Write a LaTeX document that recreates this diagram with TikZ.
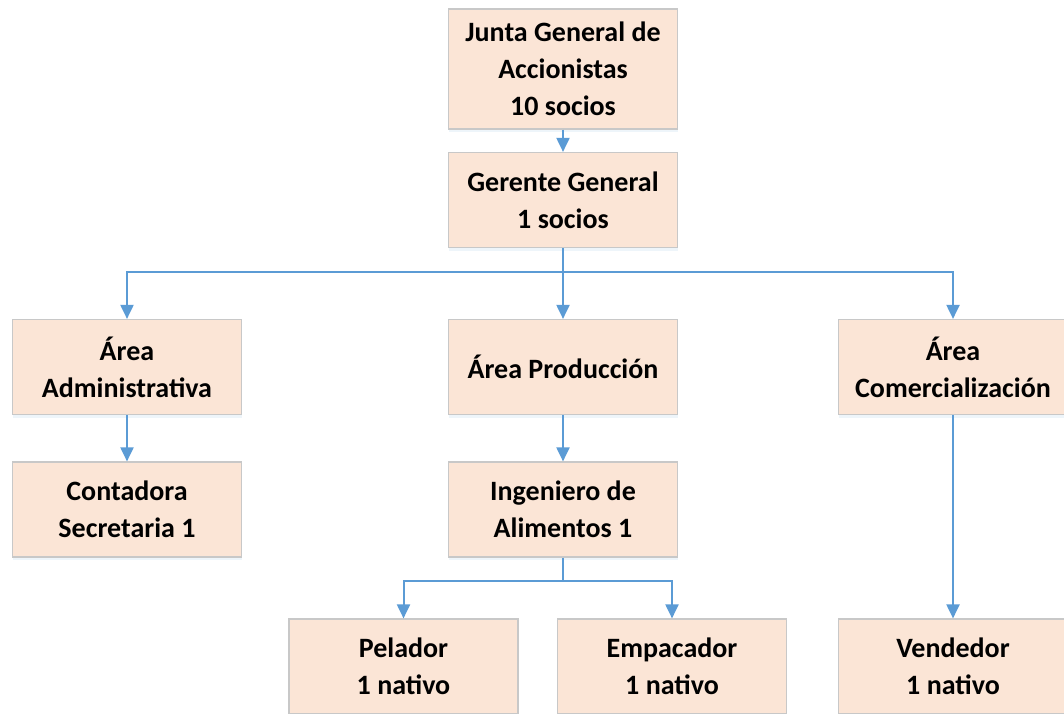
\documentclass[tikz,border=0pt]{standalone}
\usepackage{fontspec}
\setmainfont{Carlito}
\usetikzlibrary{arrows.meta, shadows}
\definecolor{boxfill}{HTML}{FBE5D6}
\definecolor{boxline}{HTML}{C8C8C8}
\definecolor{linkblue}{HTML}{5B9BD5}

\begin{document}
\begin{tikzpicture}[x=1pt, y=-1pt, >={Triangle[width=13pt,length=14pt]},
  cargo/.style={draw=boxline, fill=boxfill, line width=1.2pt, minimum width=229pt, minimum height=95pt, inner sep=0pt, align=center, font=\bfseries\fontsize{28}{37}\selectfont, drop shadow={shadow xshift=0pt, shadow yshift=-3pt, fill=linkblue!30, opacity=.35}},
  link/.style={linkblue, line width=2pt, ->}]

\useasboundingbox (0,0) rectangle (1064,713);

\node[cargo, minimum height=120pt] (junta) at (563,69) {Junta General de\\Accionistas\\10 socios}; %top
\node[cargo] (gerente) at (563,200) {Gerente General\\1 socios};

\node[cargo] (admin) at (127,367) {Área\\Administrativa};
\node[cargo] (prod) at (563,367) {Área Producción};
\node[cargo] (comer) at (953,367) {Área\\Comercialización};

\node[cargo] (conta) at (127,509.5) {Contadora\\Secretaria 1};
\node[cargo] (inge) at (563,509.5) {Ingeniero de\\Alimentos 1};

\node[cargo] (pelador) at (403.5,666.5) {Pelador\\1 nativo};
\node[cargo] (empac) at (672,666.5) {Empacador\\1 nativo};
\node[cargo] (vende) at (953,666.5) {Vendedor\\1 nativo};

\coordinate (bus) at (563,272);
\coordinate (split) at (563,581);

\draw[link] (junta) -- (gerente);
\draw[link] (gerente.south) -- (bus) -| (admin.north);
\draw[link] (bus) -| (comer.north);
\draw[link] (gerente) -- (prod);

\draw[link] (admin) -- (conta);
\draw[link] (prod) -- (inge);
\draw[link] (comer) -- (vende);

\draw[link] (inge.south) -- (split) -| (pelador.north);
\draw[link] (split) -| (empac.north);

\end{tikzpicture}
\end{document}
